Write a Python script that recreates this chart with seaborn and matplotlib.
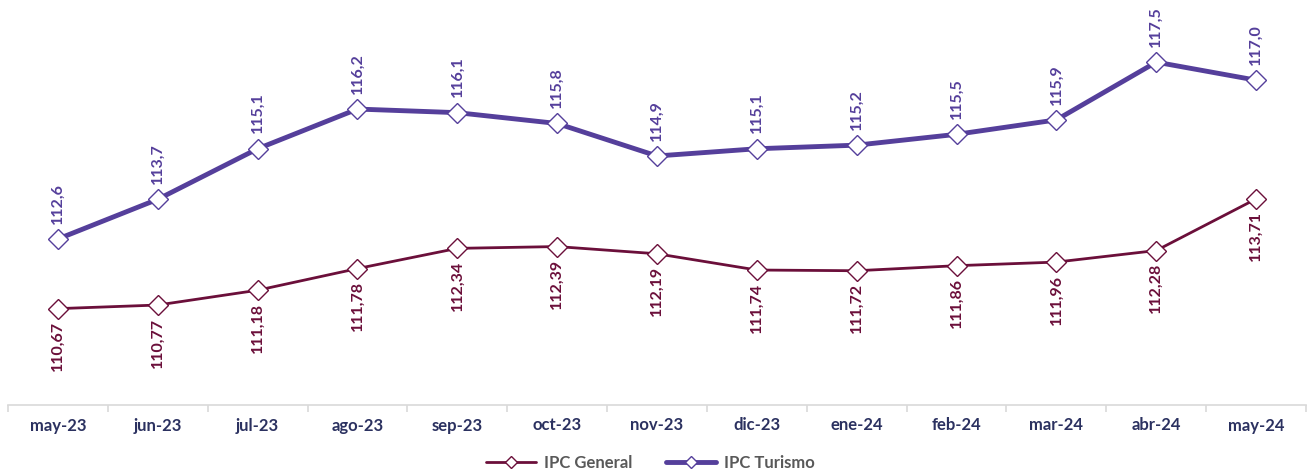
import matplotlib
matplotlib.use("Agg")
import matplotlib.pyplot as plt
import seaborn as sns
import pandas as pd

months = ["may-23", "jun-23", "jul-23", "ago-23", "sep-23", "oct-23", "nov-23",
          "dic-23", "ene-24", "feb-24", "mar-24", "abr-24", "may-24"]
ipc_general = [110.67, 110.77, 111.18, 111.78, 112.34, 112.39, 112.19,
               111.74, 111.72, 111.86, 111.96, 112.28, 113.71]
ipc_turismo = [112.6, 113.7, 115.1, 116.2, 116.1, 115.8, 114.9,
               115.1, 115.2, 115.5, 115.9, 117.5, 117.0]

sns.set_theme(style="white")
plt.rcParams['font.family'] = ['Lato', 'DejaVu Sans']

col_gen = "#6B0F3A"
col_tur = "#553F9B"

fig = plt.figure(figsize=(13.08, 4.72), dpi=100)
ax = fig.add_axes([8/1308, 67/472, 1298/1308, 397/472])

idx = list(range(len(months)))
df_gen = pd.DataFrame({"x": idx, "y": ipc_general})
df_tur = pd.DataFrame({"x": idx, "y": ipc_turismo})

sns.lineplot(data=df_gen, x="x", y="y", ax=ax, color=col_gen, lw=2.0,
             marker="D", markersize=10.5, markerfacecolor="white",
             markeredgecolor=col_gen, markeredgewidth=1.0, label="IPC General")
sns.lineplot(data=df_tur, x="x", y="y", ax=ax, color=col_tur, lw=3.5,
             marker="D", markersize=10.5, markerfacecolor="white",
             markeredgecolor=col_tur, markeredgewidth=1.0, label="IPC Turismo")

def fmt(v, d):
    return f"{v:.{d}f}".replace(".", ",")

for i, v in enumerate(ipc_turismo):
    ax.annotate(fmt(v, 1), (i, v), xytext=(0, 11), textcoords="offset points",
                rotation=90, ha="center", va="bottom", fontsize=11.5,
                fontweight="bold", color=col_tur)
for i, v in enumerate(ipc_general):
    ax.annotate(fmt(v, 2), (i, v), xytext=(0, -9), textcoords="offset points",
                rotation=90, ha="center", va="top", fontsize=11.5,
                fontweight="bold", color=col_gen)

ax.set_xlim(-0.5, len(months) - 0.5)
ax.set_ylim(108, 119)
ax.set_xticks(idx)
ax.set_xticklabels(months, fontsize=12, fontweight="bold", color="#2B3160")
ax.set_xticks([i - 0.5 for i in range(len(months) + 1)], minor=True)
ax.tick_params(axis="x", which="major", length=0, pad=9)
ax.tick_params(axis="x", which="minor", length=5, width=1.2, color="#D9D9D9",
               direction="out", bottom=True)
ax.set_yticks([])
ax.set_xlabel("")
ax.set_ylabel("")
for s in ["top", "right", "left"]:
    ax.spines[s].set_visible(False)
ax.spines["bottom"].set_color("#D9D9D9")
ax.spines["bottom"].set_linewidth(1.2)

leg = ax.legend(loc="center", bbox_to_anchor=(0.497, 9/472), bbox_transform=fig.transFigure,
                ncol=2, frameon=False, fontsize=12, handlelength=3.0,
                columnspacing=2.0, handletextpad=0.5)
for t in leg.get_texts():
    t.set_color("#595959")
    t.set_fontweight("bold")
for h in leg.legend_handles:
    h.set_markersize(6)

fig.savefig("out.png", dpi=100)
